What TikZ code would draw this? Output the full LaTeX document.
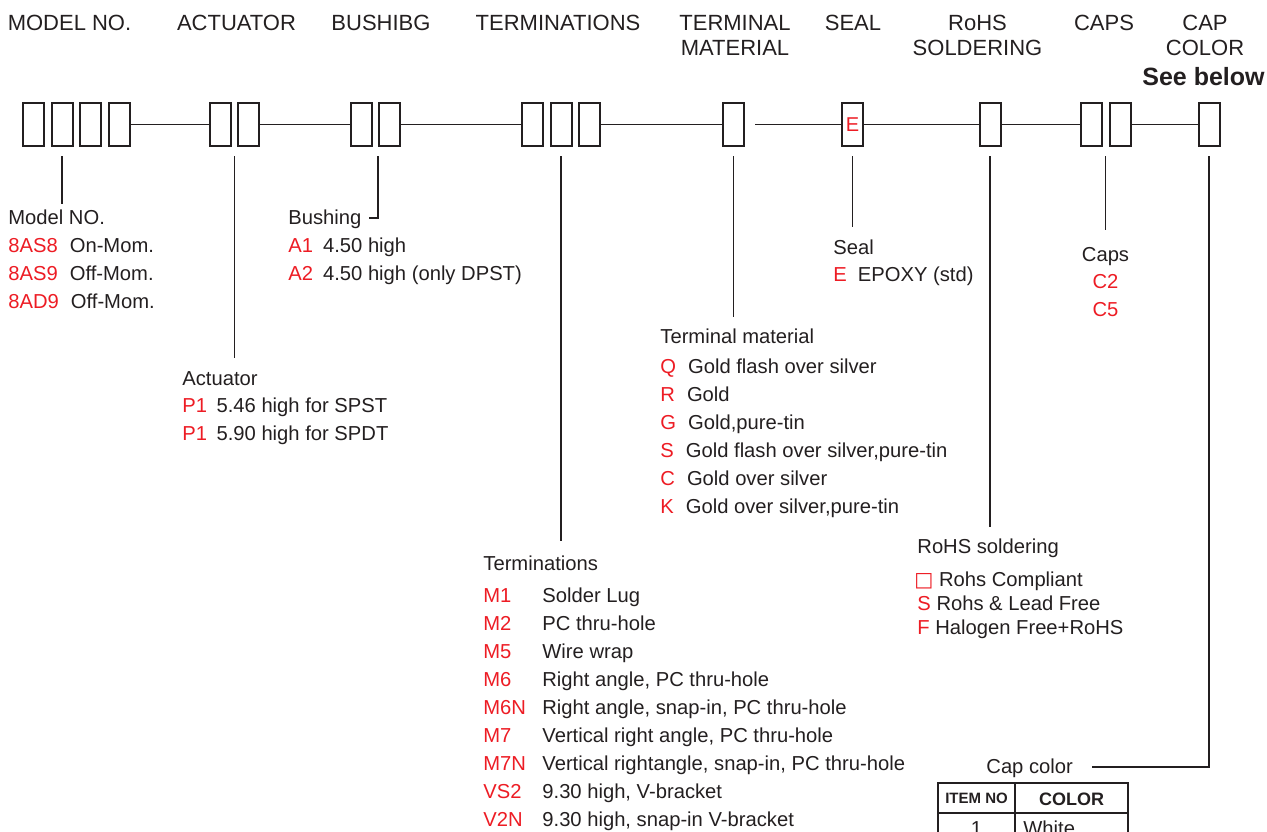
\documentclass[tikz,border=0pt]{standalone}
\usepackage{fontspec}
\setmainfont{Liberation Sans}
\newfontfamily\symfont{DejaVu Sans}
\definecolor{ink}{HTML}{231F20}
\definecolor{codered}{HTML}{ED1C24}
\newcommand\opt[2][6pt]{\textcolor{codered}{#2}\hspace{#1}}
\newcommand\optcol[1]{\makebox[29.5pt][l]{\textcolor{codered}{#1}}}

\begin{document}
\begin{tikzpicture}[x=0.5pt, y=-0.5pt,
		slot/.style={draw=ink, line width=1pt, minimum width=10.5pt, minimum height=21.5pt, inner sep=0pt},
		link/.style={draw=ink, line width=0.7pt},
		lead/.style={draw=ink, line width=0.7pt},
		grid/.style={draw=ink, line width=1pt},
		head/.style={anchor=base, inner sep=0pt, text=ink, font=\fontsize{11}{12.5}\selectfont, align=center},
		txt/.style={anchor=base west, inner sep=0pt, text=ink, font=\fontsize{10.1}{12}\selectfont}]
			%%%%% START %%%%%
			
			\useasboundingbox (0,0) rectangle (1267,831);
			
			% headings (base of two-line ones is their last line)
			\node[head] (hmod) at (69.5,30) {MODEL NO.};
			\node[head] (hact) at (236.5,30) {ACTUATOR};
			\node[head] (hbus) at (381,30) {BUSHIBG};
			\node[head] (hter) at (558,30) {TERMINATIONS};
			\node[head] (hmat) at (735,55) {TERMINAL\\MATERIAL};
			\node[head] (hseal) at (853,30) {SEAL};
			\node[head] (hrohs) at (977.5,55) {RoHS\\SOLDERING};
			\node[head] (hcaps) at (1104,30) {CAPS};
			\node[head] (hcol) at (1205,55) {CAP\\COLOR};
			\node[head, anchor=base east, font=\bfseries\fontsize{12.5}{14}\selectfont] (hsee) at (1265,85) {See below};
			
			% code slots
			\node[slot] (m1) at (33.5,124.5) {};
			\node[slot] (m2) at (62,124.5) {};
			\node[slot] (m3) at (90.5,124.5) {};
			\node[slot] (m4) at (119,124.5) {};
			
			\node[slot] (a1) at (220.5,124.5) {};
			\node[slot] (a2) at (248.5,124.5) {};
			
			\node[slot] (b1) at (361,124.5) {};
			\node[slot] (b2) at (389.5,124.5) {};
			
			\node[slot] (t1) at (532.5,124.5) {};
			\node[slot] (t2) at (561,124.5) {};
			\node[slot] (t3) at (589.5,124.5) {};
			
			\node[slot] (mat) at (733.5,124.5) {};
			\node[slot, text=codered, font=\fontsize{10}{11}\selectfont] (seal) at (852.5,124.5) {E};
			\node[slot] (rohs) at (990,124.5) {};
			
			\node[slot] (c1) at (1091,124.5) {};
			\node[slot] (c2) at (1120,124.5) {};
			
			\node[slot] (col) at (1209,124.5) {};
			
			\coordinate (gap) at (755,124.5);
			
			\draw[link] (m4.east) -- (a1.west);
			\draw[link] (a2.east) -- (b1.west);
			\draw[link] (b2.east) -- (t1.west);
			\draw[link] (t3.east) -- (mat.west);
			\draw[link] (gap) -- (seal.west);
			\draw[link] (seal.east) -- (rohs.west);
			\draw[link] (rohs.east) -- (c1.west);
			\draw[link] (c2.east) -- (col.west);
			
			% leaders
			\coordinate (mend) at (62,204);
			\coordinate (aend) at (234.5,358);
			\coordinate (bend) at (369,218);
			\coordinate (tend) at (561,541);
			\coordinate (matend) at (733.5,317);
			\coordinate (sealend) at (852.5,227);
			\coordinate (rohsend) at (990,527);
			\coordinate (capsend) at (1105.5,230);
			\coordinate (colend) at (1092,767);
			
			\draw[lead] (m2.south -| mend) ++(0,9) -- (mend);
			\draw[lead] (a1.south -| aend) ++(0,9) -- (aend);
			\draw[lead] (b2.south west) ++(0,9) |- (bend);
			\draw[lead] (t2.south -| tend) ++(0,9) -- (tend);
			\draw[lead] (mat.south -| matend) ++(0,9) -- (matend);
			\draw[lead] (seal.south -| sealend) ++(0,9) -- (sealend);
			\draw[lead] (rohs.south -| rohsend) ++(0,9) -- (rohsend);
			\draw[lead] (c1.south -| capsend) ++(0,9) -- (capsend);
			\draw[lead] (col.south) ++(0,9) |- (colend);
			
			% model no.
			\node[txt] (mtitle) at (8,224) {Model NO.};
			\node[txt] (mopt1) at (8,252) {\opt{8AS8}On-Mom.};
			\node[txt] (mopt2) at (8,280) {\opt{8AS9}Off-Mom.};
			\node[txt] (mopt3) at (8,308) {\opt{8AD9}Off-Mom.};
			
			% bushing
			\node[txt] (btitle) at (288,224) {Bushing};
			\node[txt] (bopt1) at (288,252) {\opt[5pt]{A1}4.50 high};
			\node[txt] (bopt2) at (288,280) {\opt[5pt]{A2}4.50 high (only DPST)};
			
			% actuator
			\node[txt] (atitle) at (182,385) {Actuator};
			\node[txt] (aopt1) at (182,412) {\opt[4.75pt]{P1}5.46 high for SPST};
			\node[txt] (aopt2) at (182,440) {\opt[4.75pt]{P1}5.90 high for SPDT};
			
			% terminations
			\node[txt] (ttitle) at (483,570) {Terminations};
			\node[txt] (topt1) at (483,602) {\optcol{M1}Solder Lug};
			\node[txt] (topt2) at (483,630) {\optcol{M2}PC thru-hole};
			\node[txt] (topt3) at (483,658) {\optcol{M5}Wire wrap};
			\node[txt] (topt4) at (483,686) {\optcol{M6}Right angle, PC thru-hole};
			\node[txt] (topt5) at (483,714) {\optcol{M6N}Right angle, snap-in, PC thru-hole};
			\node[txt] (topt6) at (483,742) {\optcol{M7}Vertical right angle, PC thru-hole};
			\node[txt] (topt7) at (483,770) {\optcol{M7N}Vertical rightangle, snap-in, PC thru-hole};
			\node[txt] (topt8) at (483,798) {\optcol{VS2}9.30 high, V-bracket};
			\node[txt] (topt9) at (483,826) {\optcol{V2N}9.30 high, snap-in V-bracket};
			
			% terminal material
			\node[txt] (mattitle) at (660,343) {Terminal material};
			\node[txt] (matopt1) at (660,373) {\opt{Q}Gold flash over silver};
			\node[txt] (matopt2) at (660,401) {\opt{R}Gold};
			\node[txt] (matopt3) at (660,429) {\opt{G}Gold,pure-tin};
			\node[txt] (matopt4) at (660,457) {\opt{S}Gold flash over silver,pure-tin};
			\node[txt] (matopt5) at (660,485) {\opt{C}Gold over silver};
			\node[txt] (matopt6) at (660,513) {\opt{K}Gold over silver,pure-tin};
			
			% seal
			\node[txt] (sealtitle) at (833,254) {Seal};
			\node[txt] (sealopt) at (833,281) {\opt[5.5pt]{E}EPOXY (std)};
			
			% caps
			\node[txt, anchor=base] (capstitle) at (1105.5,261) {Caps};
			\node[txt, anchor=base, text=codered] (capsopt1) at (1105.5,288.5) {C2};
			\node[txt, anchor=base, text=codered] (capsopt2) at (1105.5,316) {C5};
			
			% rohs soldering
			\node[txt] (rohstitle) at (917,553) {RoHS soldering};
			\node[txt] (rohsopt1) at (914,586) {\textcolor{codered}{\symfont □} Rohs Compliant};
			\node[txt] (rohsopt2) at (917,610) {\textcolor{codered}{S} Rohs \& Lead Free};
			\node[txt] (rohsopt3) at (917,634) {\textcolor{codered}{F} Halogen Free+RoHS};
			
			% cap color
			\node[txt] (coltitle) at (986,773) {Cap color};
			
			\draw[grid] (938,845) -- (938,783) -- (1128,783) -- (1128,845);
			\draw[grid] (938,813) -- (1128,813);
			\draw[grid] (1015,783) -- (1015,845);
			\node[anchor=base, inner sep=0pt, text=ink, font=\bfseries\fontsize{7.5}{9}\selectfont] (item) at (976.5,803.3) {ITEM NO};
			\node[anchor=base, inner sep=0pt, text=ink, font=\bfseries\fontsize{9}{11}\selectfont] (color) at (1071.5,805.5) {COLOR};
			\node[txt, anchor=base] (one) at (976.5,835) {1};
			\node[txt] (white) at (1023,835) {White};
			
			%%%%% END %%%%%
		\end{tikzpicture}
\end{document}
